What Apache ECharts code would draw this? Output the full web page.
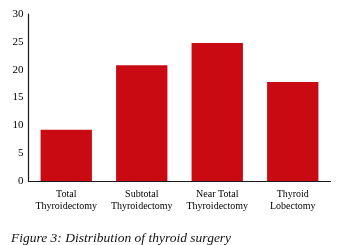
<!DOCTYPE html>
<html><head><meta charset="utf-8">
<script src="https://cdn.jsdelivr.net/npm/echarts@6/dist/echarts.min.js"></script>
<style>html,body{margin:0;padding:0;background:#fff}#c{width:347px;height:245px}</style>
</head><body><div id="c"></div>
<script>
const categories = ["Total\nThyroidectomy", "Subtotal\nThyroidectomy", "Near Total\nThyroidectomy", "Thyroid\nLobectomy"];
const values = [9.2, 20.8, 24.8, 17.8];
const yTicks = [0, 5, 10, 15, 20, 25, 30];
const caption = "Figure 3: Distribution of thyroid surgery";

const chart = echarts.init(document.getElementById('c'), null, {renderer: 'canvas'});
const font = '"Liberation Serif", "DejaVu Serif", serif';
chart.setOption({
  animation: false,
  backgroundColor: '#fff',
  grid: {left: 28.5, right: 16.5, top: 14, bottom: 64},
  title: {
    text: caption, left: 6, top: 226,
    textStyle: {fontFamily: font, fontStyle: 'italic', fontWeight: 'normal', fontSize: 13.5, color: '#111'}
  },
  xAxis: {
    type: 'category', data: categories,
    axisLine: {lineStyle: {color: '#1a1a1a', width: 1.2}},
    axisTick: {show: false},
    axisLabel: {fontFamily: font, fontSize: 10, color: '#000', lineHeight: 12, margin: 7, interval: 0}
  },
  yAxis: {
    type: 'value', min: yTicks[0], max: yTicks[yTicks.length - 1], interval: 5,
    axisLine: {show: true, lineStyle: {color: '#1a1a1a', width: 1.2}},
    axisTick: {show: false},
    splitLine: {show: false},
    axisLabel: {fontFamily: font, fontSize: 11, color: '#000', margin: 5}
  },
  series: [{
    type: 'bar', data: values, barCategoryGap: '32%',
    itemStyle: {color: '#c90a13'}
  }]
});
</script></body></html>
